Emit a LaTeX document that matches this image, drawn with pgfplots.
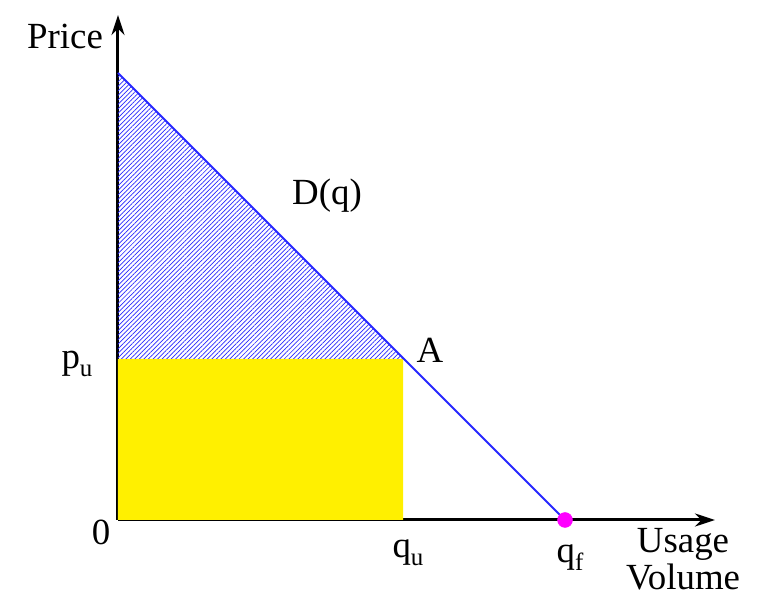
\documentclass[border=0pt]{standalone}
\usepackage{pgfplots}
\pgfplotsset{compat=1.18}
\usepackage{fontspec}
\setmainfont{LiberationSerif}[Extension=.ttf, UprightFont=*-Regular, BoldFont=*-Bold, ItalicFont=*-Italic, BoldItalicFont=*-BoldItalic]
\usetikzlibrary{arrows.meta,patterns.meta}
\definecolor{dblue}{RGB}{40,40,255}
\definecolor{myyellow}{RGB}{255,240,0}
\definecolor{mymag}{RGB}{255,0,255}
\newcommand{\bigf}{\fontsize{37}{40}\selectfont}
\newcommand{\sub}[1]{\raisebox{-8bp}{\fontsize{25}{25}\selectfont #1}}
\begin{document}
\begin{tikzpicture}[x=1bp,y=1bp]
\useasboundingbox (-118,-78) rectangle (647,520);
\begin{axis}[
  at={(0,0)}, anchor=origin,
  x=1bp, y=1bp,
  xmin=0, xmax=597, ymin=0, ymax=505,
  axis lines=left,
  axis line style={line width=3bp, -{Stealth[length=20bp,width=13bp]}},
  xtick=\empty, ytick=\empty,
  clip=false,
]
\addplot[draw=none, fill=myyellow] coordinates {(0,0) (285,0) (285,161) (0,161) (0,0)};
\addplot[draw=none, pattern={Lines[angle=45,distance=3.2bp,line width=0.7bp]}, pattern color=dblue] coordinates {(0,447) (286,161) (0,161) (0,447)};
\addplot[dblue, line width=2bp] coordinates {(0,447) (447,0)};
\addplot[only marks, mark=*, mark size=7.5bp, color=mymag] coordinates {(447,0)};
\node[font=\bigf] at (axis cs:-53,484) {Price};
\node[font=\bigf, anchor=base] at (axis cs:-41,151) {p\sub{u}};
\node[font=\bigf] at (axis cs:-17,-12) {0};
\node[font=\bigf, anchor=base] at (axis cs:290,-38) {q\sub{u}};
\node[font=\bigf, anchor=base] at (axis cs:452,-43) {q\sub{f}};
\node[font=\bigf] at (axis cs:565,-24) {Usage};
\node[font=\bigf] at (axis cs:565,-57) {Volume};
\node[font=\bigf] at (axis cs:209,324) {D(q)};
\node[font=\bigf] at (axis cs:312,170) {A};
\end{axis}
\end{tikzpicture}
\end{document}
